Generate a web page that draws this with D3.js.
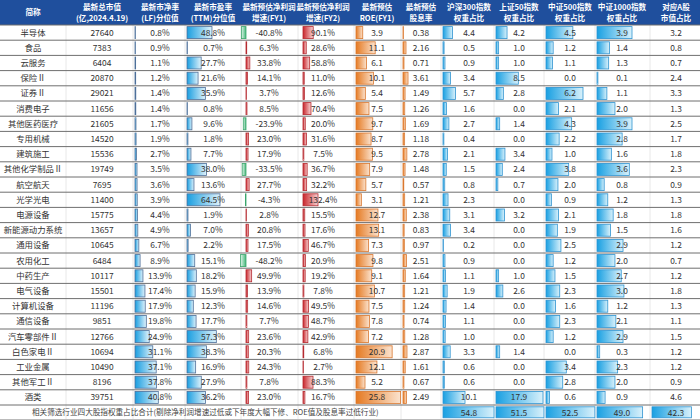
<!DOCTYPE html>
<html>
<head>
<meta charset="utf-8">
<script src="https://cdn.jsdelivr.net/npm/d3@7"></script>
<style>
  html, body { margin: 0; padding: 0; background: #fff; }
  svg { display: block; font-family: "Noto Sans CJK SC", "Noto Sans", sans-serif; }
</style>
</head>
<body>
<svg id="chart" width="700" height="420"></svg>
<script>
// ---- data ----
var industries = ["半导体","食品","云服务","保险Ⅱ","证券Ⅱ","消费电子","其他医药医疗","专用机械","建筑施工","其他化学制品Ⅱ","航空航天","光学光电","电源设备","新能源动力系统","通用设备","农用化工","中药生产","电气设备","计算机设备","通信设备","汽车零部件Ⅱ","白色家电Ⅱ","工业金属","其他军工Ⅱ","酒类"];
var marketCap = [27640,7383,6404,20870,29021,11656,21605,14520,15536,19749,7695,11400,15775,13657,10645,6484,10117,15501,11196,9851,12766,10694,10490,8196,39751];
var pbPct = [0.8,0.9,1.1,1.2,1.4,1.4,1.7,1.9,2.7,3.5,3.6,3.9,4.4,4.9,6.7,8.9,13.9,17.4,17.9,19.8,24.9,31.1,37.1,37.8,40.8];
var pePct = [48.8,0.7,27.7,21.6,35.9,0.8,9.6,1.8,7.7,38.0,13.6,64.5,1.9,7.0,2.2,15.1,18.2,15.9,12.3,17.7,57.3,38.3,16.9,27.9,36.2];
var growthFY1 = [-40.8,6.3,33.8,14.1,3.7,8.5,-23.9,23.0,17.9,-33.5,27.7,-4.3,2.8,20.8,17.5,-48.2,49.9,13.9,14.6,7.7,23.6,20.3,24.3,7.8,23.0];
var growthFY2 = [90.1,28.6,58.8,11.0,12.6,70.4,20.0,31.6,7.5,36.7,32.2,132.4,15.5,17.6,46.7,20.9,19.2,7.8,49.5,48.7,42.9,6.8,2.7,88.3,16.7];
var roeFY1 = [3.9,11.1,6.1,10.1,5.4,7.5,9.7,8.7,9.5,7.9,5.7,3.1,12.7,13.1,7.3,9.8,9.1,10.7,7.5,7.8,7.2,20.9,12.1,5.2,25.8];
var divYield = [0.38,2.16,0.71,3.61,1.49,1.26,1.69,1.18,2.78,1.48,0.57,1.21,2.38,0.83,0.97,2.51,1.64,1.21,1.24,0.74,1.28,2.87,1.61,0.67,2.49];
var hs300 = [4.4,0.5,0.9,3.4,5.7,1.6,2.7,0.4,2.1,1.5,0.8,2.3,3.1,3.4,0.2,0.9,1.1,1.9,1.4,1.1,1.0,3.3,0.6,0.6,10.1];
var sz50 = [4.2,1.0,1.0,8.5,2.8,0.0,1.4,0.0,3.4,2.4,0.7,0.0,3.2,0.0,0.0,0.0,1.0,2.6,0.0,0.0,0.0,1.4,0.0,0.0,17.9];
var zz500 = [4.5,1.2,1.1,0.0,6.2,2.1,4.3,2.2,1.0,3.8,2.0,0.9,2.1,1.9,2.5,1.2,1.5,2.3,1.6,2.3,1.2,0.0,3.4,2.8,0.6];
var zz1000 = [3.9,1.4,1.3,0.1,1.1,2.0,3.9,2.8,1.6,3.6,0.8,1.2,1.8,1.5,2.9,2.0,2.7,3.0,1.2,2.1,2.9,0.3,2.3,2.0,0.9];
var aShare = [3.2,0.8,0.7,2.4,3.3,1.3,2.5,1.7,1.8,2.3,0.9,1.3,1.8,1.6,1.2,0.7,1.2,1.8,1.3,1.1,1.5,1.2,1.2,0.9,4.6];
var footerLabel = "相关筛选行业四大股指权重占比合计(剔除净利润增速过低或下年度大幅下修、ROE值及股息率过低行业)";
var footerTotals = [54.8,51.5,52.5,49.0,42.3]; // 沪深300, 上证50, 中证500, 中证1000, 对应A股

var W = 700, headerH = 25, rowH = 15.2;
var footerY = headerH + industries.length * rowH;

// column layout: left edge, text centre, header lines, value array, formatter, bar style
var pct = function (v) { return v.toFixed(1) + "%"; };
var f1 = function (v) { return v.toFixed(1); };
var f2 = function (v) { return v.toFixed(2); };
var columns = [
  {x0: 0,   x1: 66,  cx: 33,  head: ["简称"], vals: industries, fmt: String},
  {x0: 66,  x1: 133, cx: 102, head: ["最新总市值", "(亿,2024.4.19)"], vals: marketCap, fmt: String},
  {x0: 133, x1: 185, cx: 160, head: ["最新市净率", "(LF)分位值"], vals: pbPct, fmt: pct, bar: "pb", max: 40.8, px: 23.3},
  {x0: 185, x1: 241, cx: 213, head: ["最新市盈率", "(TTM)分位值"], vals: pePct, fmt: pct, bar: "pb", max: 64.5, px: 33},
  {x0: 241, x1: 298, cx: 269, head: ["最新预估净利润", "增速(FY1)"], vals: growthFY1, fmt: pct, bar: "red", max: 132.4, px: 15, axis: 5},
  {x0: 298, x1: 354, cx: 323, head: ["最新预估净利润", "增速(FY2)"], vals: growthFY2, fmt: pct, bar: "red", max: 132.4, px: 15, axis: 5},
  {x0: 354, x1: 401, cx: 377, head: ["最新预估", "ROE(FY1)"], vals: roeFY1, fmt: f1, bar: "orange", max: 25.8, px: 44.6},
  {x0: 401, x1: 441, cx: 421, head: ["最新预估", "股息率"], vals: divYield, fmt: f2, bar: "orange", max: 3.61, px: 5},
  {x0: 441, x1: 494, cx: 469, head: ["沪深300指数", "权重占比"], vals: hs300, fmt: f1, bar: "blue", max: 10.1, px: 22},
  {x0: 494, x1: 544, cx: 519, head: ["上证50指数", "权重占比"], vals: sz50, fmt: f1, bar: "blue", max: 17.9, px: 47},
  {x0: 544, x1: 595, cx: 570, head: ["中证500指数", "权重占比"], vals: zz500, fmt: f1, bar: "blue", max: 6.2, px: 37},
  {x0: 595, x1: 650, cx: 622, head: ["中证1000指数", "权重占比"], vals: zz1000, fmt: f1, bar: "blue", max: 3.9, px: 35},
  {x0: 650, x1: 700, cx: 676, head: ["对应A股", "市值占比"], vals: aShare, fmt: f1}
];

var svg = d3.select("#chart");
var defs = svg.append("defs");

// gradient fills, saturated at the axis and fading outward
var grads = [
  {id: "g-pb", a: "#1a9ee0", b: "#dff2fb"},
  {id: "g-blue", a: "#19a0e2", b: "#d9f1fb"},
  {id: "g-red", a: "#c9262c", b: "#f7d3d3"},
  {id: "g-green", a: "#45b87a", b: "#dff3e8", rev: true},
  {id: "g-orange", a: "#e57a22", b: "#fbe3cf"}
];
grads.forEach(function (g) {
  var lg = defs.append("linearGradient").attr("id", g.id)
    .attr("x1", g.rev ? 1 : 0).attr("x2", g.rev ? 0 : 1).attr("y1", 0).attr("y2", 0);
  lg.append("stop").attr("offset", "0%").attr("stop-color", g.a);
  lg.append("stop").attr("offset", "100%").attr("stop-color", g.b);
});
var barStyle = {
  pb: {fill: "url(#g-pb)", stroke: "#4d6f99"},
  blue: {fill: "url(#g-blue)", stroke: "#2f93d0"},
  red: {fill: "url(#g-red)", stroke: "#b52a30", negFill: "url(#g-green)", negStroke: "#3aa56b"},
  orange: {fill: "url(#g-orange)", stroke: "#d9772e"}
};

var y = d3.scaleBand().domain(d3.range(industries.length))
  .range([headerH, footerY]).padding(0);

// header band
svg.append("rect").attr("x", 0).attr("y", 0).attr("width", W).attr("height", headerH)
  .attr("fill", "#1f4f9d");
var head = svg.append("g").attr("font-size", 7.6).attr("font-weight", "bold").attr("fill", "#fff")
  .attr("text-anchor", "middle");
columns.forEach(function (c) {
  c.head.forEach(function (t, i) {
    var ty = c.head.length === 1 ? headerH / 2 : (i === 0 ? 7.5 : 18);
    head.append("text").attr("x", c.cx).attr("y", ty).attr("dy", "0.35em").text(t);
  });
});

// faint column separators
svg.append("g").selectAll("line").data(columns.slice(1)).join("line")
  .attr("x1", function (c) { return c.x0; }).attr("x2", function (c) { return c.x0; })
  .attr("y1", headerH).attr("y2", 420)
  .attr("stroke", "#e2e2e2").attr("stroke-width", 0.8);

// data bars
var bars = svg.append("g");
columns.filter(function (c) { return c.bar; }).forEach(function (c) {
  var xs = d3.scaleLinear().domain([0, c.max]).range([0, c.px]);
  var axisX = c.x0 + (c.axis || 2);
  var st = barStyle[c.bar];
  bars.append("g").selectAll("rect")
    .data(c.vals.map(function (v, i) { return {v: v, i: i}; }).filter(function (d) { return d.v !== 0; }))
    .join("rect")
    .attr("x", function (d) { return d.v < 0 ? axisX - xs(-d.v) : axisX; })
    .attr("y", function (d) { return y(d.i) + 1.6; })
    .attr("width", function (d) { return Math.max(0.4, xs(Math.abs(d.v))); })
    .attr("height", y.bandwidth() - 3.2)
    .attr("fill", function (d) { return d.v < 0 ? st.negFill : st.fill; })
    .attr("stroke", function (d) { return d.v < 0 ? st.negStroke : st.stroke; })
    .attr("stroke-width", 0.8);
});

// row separators
svg.append("g").selectAll("line").data(d3.range(industries.length + 1)).join("line")
  .attr("x1", 0).attr("x2", W)
  .attr("y1", function (i) { return headerH + i * rowH; })
  .attr("y2", function (i) { return headerH + i * rowH; })
  .attr("stroke", "#6f6f6f").attr("stroke-width", 1);

// cell texts
var body = svg.append("g").attr("font-size", 8.4).attr("fill", "#333").attr("text-anchor", "middle");
columns.forEach(function (c) {
  body.append("g").selectAll("text").data(c.vals).join("text")
    .attr("x", c.cx)
    .attr("y", function (d, i) { return y(i) + y.bandwidth() / 2; })
    .attr("dy", "0.36em")
    .text(function (d) { return c.fmt(d); });
});

// footer row: totals for the index columns
var footH = 420 - footerY;
var xf = d3.scaleLinear().domain([0, 58]).range([0, 54]);
var footCols = columns.slice(8);
svg.append("g").selectAll("rect").data(footerTotals).join("rect")
  .attr("x", function (d, i) { return footCols[i].x0 + 2; })
  .attr("y", footerY + 1.8)
  .attr("width", function (d) { return xf(d); })
  .attr("height", footH - 4)
  .attr("fill", "url(#g-blue)").attr("stroke", "#2f93d0").attr("stroke-width", 0.8);
svg.append("g").attr("font-size", 8.4).attr("fill", "#333").attr("text-anchor", "middle")
  .selectAll("text").data(footerTotals).join("text")
  .attr("x", function (d, i) { return footCols[i].cx; })
  .attr("y", footerY + footH / 2).attr("dy", "0.36em")
  .text(function (d) { return d.toFixed(1); });
svg.append("text").attr("x", 32).attr("y", footerY + footH / 2).attr("dy", "0.36em")
  .attr("font-size", 7.6).attr("fill", "#444").text(footerLabel);
svg.append("line").attr("x1", 0).attr("x2", W).attr("y1", 419.5).attr("y2", 419.5)
  .attr("stroke", "#bbb").attr("stroke-width", 1);
</script>
</body>
</html>
